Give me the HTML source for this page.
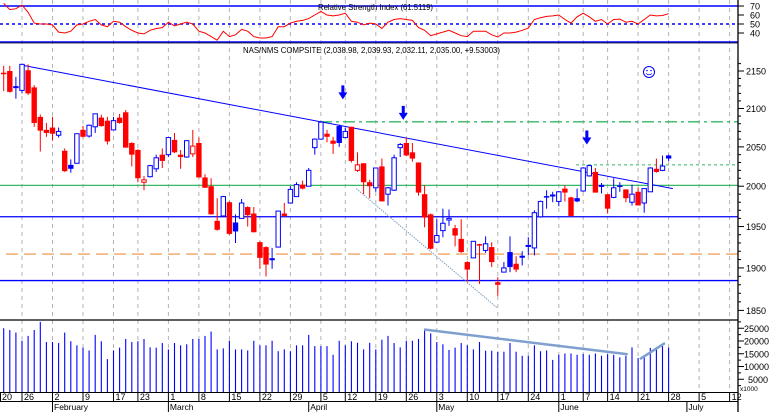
<!DOCTYPE html>
<html><head><meta charset="utf-8"><style>
html,body{margin:0;padding:0;background:#fff;}
svg{display:block;font-family:"Liberation Sans",sans-serif;}
</style></head><body>
<svg id="c" width="770" height="412" viewBox="0 0 770 412" xmlns="http://www.w3.org/2000/svg">
<rect x="0" y="0" width="770" height="412" fill="#fff"/>
<g id="grid"></g>
<g id="rsi"></g>
<g id="price"></g>
<g id="vol"></g>
<g id="axes"></g>
<text x="318" y="10" font-size="8.5" textLength="115" lengthAdjust="spacingAndGlyphs">Relative Strength Index (61.5119)</text>
<text x="243" y="53" font-size="8.5" textLength="257" lengthAdjust="spacingAndGlyphs">NAS/NMS COMPSITE (2,038.98, 2,039.93, 2,032.11, 2,035.00, +9.53003)</text>
</svg>
<script>
const opens=[2147,2150,2128,2124,2151,2128,2089,2072,2075,2065,2045,2027,2029,2072,2064,2076,2088,2084,2072,2088,2095,2055,2046,2005,2012,2022,2040,2040,2059,2040,2037,2041,2055,2011,2000,1957,1963,1980,1955,1960,1974,1966,1931,1925,1910,1925,1966,1979,1987,2002,2000,2049,2060,2067,2058,2077,2062,2076,2020,2029,2005,1998,2025,1990,1995,2049,2055,2043,2030,1990,1965,1931,1945,1958,1948,1935,1907,1912,1928,1921,1925,1883,1895,1919,1905,1913,1926,1924,1962,1987,1988,1981,1997,1986,1985,1994,2013,2018,2000,1990,1986,2001,1996,1980,1993,1979,1993,2022,2020,2038.98];
const highs=[2157,2157,2142,2160,2159,2131,2092,2081,2089,2075,2048,2034,2067,2077,2079,2093,2092,2089,2089,2093,2098,2056,2047,2013,2027,2040,2048,2062,2068,2046,2058,2072,2062,2015,2010,1985,1988,1981,1965,1984,1975,1974,1932,1926,1924,1969,1979,2000,2005,2007,2023,2061,2083,2072,2063,2079,2075,2076,2043,2029,2008,2023,2035,1999,2040,2055,2062,2055,2030,2001,1966,1959,1972,1971,1952,1959,1908,1932,1929,1938,1931,1889,1907,1938,1914,1920,1937,1970,1982,1995,1993,1994,2001,1987,1997,2024,2027,2023,2004,1990,2010,2005,1996,2002,1998,1997,2024,2035,2039,2039.93];
const lows=[2123,2121,2113,2120,2118,2076,2044,2063,2058,2062,2018,2017,2029,2062,2062,2068,2076,2053,2072,2080,2049,2025,2005,1995,2011,2018,2023,2037,2042,2022,2036,2037,2011,1998,1965,1945,1962,1940,1930,1960,1950,1943,1899,1890,1899,1925,1962,1979,1987,1996,2000,2040,2060,2056,2041,2050,2062,2030,2018,1990,1985,1993,1981,1976,1994,2037,2038,2031,1988,1949,1922,1930,1937,1951,1926,1918,1884,1912,1881,1918,1901,1867,1895,1895,1895,1903,1915,1915,1961,1972,1980,1975,1981,1962,1980,1993,2012,1992,1991,1966,1985,1993,1980,1976,1976,1967,1993,2017,2019,2032.11];
const closes=[2145,2122,2129,2159,2120,2081,2071,2068,2067,2070,2019,2022,2067,2063,2078,2093,2077,2057,2084,2081,2049,2040,2010,2008,2026,2036,2032,2062,2043,2037,2058,2051,2011,1998,1965,1946,1987,1941,1944,1979,1964,1943,1912,1904,1911,1969,1963,1996,2002,1997,2020,2060,2082,2063,2054,2055,2070,2032,2027,2005,2000,2023,1981,1998,2036,2053,2039,2035,1992,1961,1923,1939,1954,1960,1939,1919,1898,1932,1927,1929,1907,1880,1900,1901,1898,1914,1927,1967,1981,1986,1989,1993,1992,1963,1981,2023,2026,1992,2001,1972,1998,1999,1985,1990,1976,1997,2023,2018,2025.5,2035];
const volumes=[25,24.3,23.3,20.1,22,24.3,27.5,19.6,19.6,19.2,23.3,19.9,18.3,17.4,16.3,22.4,19.9,12.9,16.3,17.4,20.8,19.6,19.9,20.8,17.5,17.4,19.2,16.7,19.2,18.3,18.7,20.8,20.8,22,23.7,16.7,17.1,20.1,16.7,16.7,16.3,20.1,18.3,18.3,20.1,16,16.7,16,18.3,18.3,22.4,18,18,18,14.6,20.1,18.3,19.9,19.3,16.7,19.3,16.7,20.5,22,19.2,17.5,20.1,20.1,20.8,24.3,23,19.6,18.7,16.5,17.4,19.2,18.3,16.7,19.6,16.2,16.2,15.8,15.8,19.2,15.8,14.2,14.2,18.3,16,16.3,12.6,14.6,15.1,15.1,14.6,14.9,14.6,15.1,14.2,14.8,14.6,13.6,14.2,17.5,13.3,14.5,17.3,16.7,18,17.4];
const rsiValues=[73,66,67,71,63,51,50,50,49,41,40,42,49,50,53,55,49,47,53,52,47,43,40,39,43,45,46,52,48,50,52,50,42,40,36,32,42,36,38,44,42,36,34.5,34.5,36,47,47,51,53,54,56,60,64,60,59,60,62,53,52,49,51,50,45,52,55,56,55,54,46,43,37,39,41,43,40,37,36,42,42,42,38,35.5,40,40,41,43,45.5,55,57,58.5,59,60,55,51,58,62,58,53,55,50,55,55.5,52,53,50,55,60,59,59.5,61.5];
const weekIdx=[0,4,9,14,19,23,28,33,38,43,48,53,57,62,67,72,77,82,87,92,96,100,105,110,115,120];
const weekLabels=["20","26","2","9","17","23","1","8","15","22","29","5","12","19","26","3","10","17","24","1","7","14","21","28","5","12"];
const monthIdx=[9,28,51,72,92,113];
const monthLabels=["February","March","April","May","June","July"];
const priceTicks=[2150,2100,2050,2000,1950,1900,1850];
const rsiTicks=[70,60,50,40];
const volTicks=[25000,20000,15000,10000,5000];
const levelPrices=[2001,1962,1885];
const levelColors=["#33b864","#0000ff","#0000ff"];

const NS="http://www.w3.org/2000/svg";
const R=738;
function xOf(i){return -2.4+6.1*i;}
function yP(p){return 71+(Math.log(2150)-Math.log(p))*1593;}
function yR(r){return 6+(70-r)*0.9;}
function yV(v){return 392-v*2.55;}
function mk(parent,tag,attrs){const e=document.createElementNS(NS,tag);for(const k in attrs)e.setAttribute(k,attrs[k]);parent.appendChild(e);return e;}
const G=document.getElementById('grid'),RS=document.getElementById('rsi'),PR=document.getElementById('price'),VO=document.getElementById('vol'),AX=document.getElementById('axes');

weekIdx.forEach((w,k)=>{
  const x=xOf(w);
  if(x<0||x>R)return;
  const l=mk(G,'line',{x1:x,y1:0,x2:x,y2:392,stroke:'#b4b4b4','stroke-width':1,'stroke-dasharray':'4,4'});
  
  
});

[70,30].forEach(a=>{
  const l=mk(RS,'line',{x1:0,y1:yR(a),x2:R,y2:yR(a),stroke:'#0000ff','stroke-width':1.5});
  
  
});
const l50=mk(RS,'line',{x1:0,y1:yR(50),x2:R,y2:yR(50),stroke:'#0000ff','stroke-width':1.5,'stroke-dasharray':'3,3'});


const rp=rsiValues.map((v,k)=>xOf(k+1).toFixed(1)+','+yR(v).toFixed(1)).join(' ');
const rl=mk(RS,'polyline',{points:rp,fill:'none',stroke:'#ff0000','stroke-width':1});



levelPrices.forEach((p,k)=>{
  const l=mk(PR,'line',{x1:0,y1:yP(p),x2:R,y2:yP(p),stroke:levelColors[k],'stroke-width':1.3});
  
  
});
let e;
e=mk(PR,'line',{x1:6,y1:yP(1916.6),x2:R,y2:yP(1916.6),stroke:'#f4a460','stroke-width':1.3,'stroke-dasharray':'12,6'});


e=mk(PR,'line',{x1:320,y1:yP(2082.5),x2:R,y2:yP(2082.5),stroke:'#33b864','stroke-width':1.3,'stroke-dasharray':'12,4,3,4'});


e=mk(PR,'line',{x1:576,y1:yP(2027),x2:R,y2:yP(2027),stroke:'#33b864','stroke-width':1,'stroke-dasharray':'3,3'});


e=mk(PR,'line',{x1:xOf(3.95),y1:yP(2158),x2:xOf(110.7),y2:yP(1997),stroke:'#0000ff','stroke-width':1});


e=mk(PR,'line',{x1:xOf(58.8),y1:yP(1997),x2:xOf(81.9),y2:yP(1853),stroke:'#7f9fbf','stroke-width':1,'stroke-dasharray':'1.5,1'});



for(let k=0;k<closes.length;k++){
  const o=opens[k],h=highs[k],l=lows[k],c=closes[k];
  const prev=k>0?closes[k-1]:o;
  const col=c<prev?'#ff0000':'#0000ff';
  const x=xOf(k+1);
  const g=mk(PR,'g',{});
  
  
  mk(g,'line',{x1:x,y1:yP(h),x2:x,y2:yP(l),stroke:col,'stroke-width':1});
  const yt=yP(Math.max(o,c)),yb=yP(Math.min(o,c));
  const hgt=Math.max(yb-yt,1);
  if(c>o){
    mk(g,'rect',{x:x-2.2,y:yt,width:4.4,height:hgt,fill:'#fff',stroke:col,'stroke-width':1});
  }else{
    mk(g,'rect',{x:x-2.7,y:yt-(hgt<1.5?0.5:0),width:5.4,height:Math.max(hgt,1.5),fill:col});
  }
}
[[56.6,2112],[66.5,2085],[96.6,2053]].forEach(a=>{
  const x=xOf(a[0]),y=yP(a[1]);
  const p=mk(PR,'path',{d:`M${x-1.5},${y-14}h3v7h3l-4.5,7l-4.5,-7h3z`,fill:'#0000ff'});
  
  
});
const sg=mk(PR,'g',{});


mk(sg,'circle',{cx:649,cy:72,r:5.5,fill:'none',stroke:'#0000ff','stroke-width':1});
mk(sg,'circle',{cx:647,cy:70.5,r:0.8,fill:'#0000ff'});
mk(sg,'circle',{cx:651,cy:70.5,r:0.8,fill:'#0000ff'});
mk(sg,'path',{d:'M646,73.5 Q649,76 652,73.5',fill:'none',stroke:'#0000ff','stroke-width':0.8});

e=mk(VO,'line',{x1:0,y1:320,x2:R,y2:320,stroke:'#000','stroke-width':1.3});


volumes.forEach((v,k)=>{
  const x=xOf(k+1);
  const b=mk(VO,'line',{x1:x,y1:yV(v),x2:x,y2:392,stroke:'#0000ff','stroke-width':1.1});
  
  
});
e=mk(VO,'line',{x1:xOf(69.9),y1:yV(24.5),x2:xOf(103.3),y2:yV(14.8),stroke:'#7f9fcf','stroke-width':2.5});


e=mk(VO,'line',{x1:xOf(105.3),y1:yV(12.9),x2:xOf(109.4),y2:yV(19.2),stroke:'#7f9fcf','stroke-width':2.5});



e=mk(AX,'line',{x1:0,y1:43,x2:R,y2:43,stroke:'#000','stroke-width':0.8});


e=mk(AX,'line',{x1:R,y1:0,x2:R,y2:412,stroke:'#000','stroke-width':1.3});


e=mk(AX,'line',{x1:0,y1:392.5,x2:R,y2:392.5,stroke:'#000','stroke-width':1});


e=mk(AX,'line',{x1:0,y1:401.5,x2:R,y2:401.5,stroke:'#000','stroke-width':1});



for(let p=1850;p<=2160;p+=10){
  const y=yP(p);
  if(y<46||y>318)continue;
  const major=p%50===0;
  mk(AX,'line',{x1:R,y1:y,x2:R+(major?6:3),y2:y,stroke:'#000','stroke-width':1});
}
priceTicks.forEach(p=>{
  const t=mk(AX,'text',{x:746,y:yP(p)+3.5,'font-size':9});
  t.textContent=p;
  
  
});
rsiTicks.forEach(r=>{
  mk(AX,'line',{x1:R,y1:yR(r),x2:R+6,y2:yR(r),stroke:'#000','stroke-width':1});
  const t=mk(AX,'text',{x:750,y:yR(r)+3.5,'font-size':9});
  t.textContent=r;
  
  
});
for(let v=2.5;v<=27.5;v+=2.5){
  const y=yV(v);
  mk(AX,'line',{x1:R,y1:y,x2:R+(v%5===0?6:3),y2:y,stroke:'#000','stroke-width':1});
}
volTicks.forEach(v=>{
  const t=mk(AX,'text',{x:v>=10000?744:748,y:yV(v/1000)+3.5,'font-size':9});
  t.textContent=v;
  
  
});
e=mk(AX,'text',{x:740,y:391,'font-size':6.5});
e.textContent='x1000';



weekIdx.forEach((w,k)=>{
  const x=xOf(w);
  if(x>R)return;
  mk(AX,'line',{x1:Math.max(x,0.5),y1:392,x2:Math.max(x,0.5),y2:401,stroke:'#000','stroke-width':1});
  const t=mk(AX,'text',{x:Math.max(x,0)+2,y:400,'font-size':9});
  t.textContent=weekLabels[k];
  
  
});
monthIdx.forEach((m,k)=>{
  const x=xOf(m);
  mk(AX,'line',{x1:x,y1:401,x2:x,y2:412,stroke:'#000','stroke-width':1});
  const t=mk(AX,'text',{x:x+1.5,y:410,'font-size':8.5});
  t.textContent=monthLabels[k];
  
  
});
</script>
</body></html>
